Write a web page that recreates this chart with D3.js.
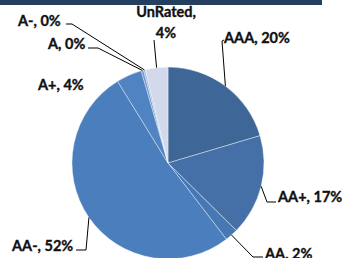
<!DOCTYPE html>
<html>
<head>
<meta charset="utf-8">
<script src="https://cdn.jsdelivr.net/npm/d3@7"></script>
<style>
  html, body { margin: 0; padding: 0; background: #fff; }
  svg { display: block; }
  .lbl { font-family: Lato, "Open Sans", sans-serif; font-weight: 700; font-size: 14.5px;
         fill: #111; stroke: #111; stroke-width: 0.35px; }
</style>
</head>
<body>
<div id="page"></div>
<script>
// ratings share of portfolio, clockwise from 12 o'clock
var ratings = ['AAA', 'AA+', 'AA', 'AA-', 'A+', 'A', 'A-', 'UnRated'];
var shares  = [20.4, 17.0, 2.2, 51.6, 4.3, 0.4, 0.3, 3.8];
var colors  = ['#3e6697', '#4470a7', '#4878b4', '#4b7ebc', '#5083c1', '#6b96cc', '#9db6db', '#d1d9ea'];

// label layout: text position + leader elbow/end (null = no leader)
var labelLayout = [
  {x: 224, y: 43,  anchor: 'start', elbow: [222, 41], stub: [224, 40]},
  {x: 278, y: 202, anchor: 'start', elbow: [267, 202], stub: [276, 202]},
  {x: 265, y: 259, anchor: 'start', elbow: [253, 257], stub: [263, 257]},
  {x: 12,  y: 251, anchor: 'start', elbow: [86, 250], stub: [76, 250]},
  {x: 38,  y: 90,  anchor: 'start', elbow: null},
  {x: 48,  y: 49,  anchor: 'start', elbow: [98, 48], stub: [88, 48]},
  {x: 18,  y: 26,  anchor: 'start', elbow: [72, 24], stub: [66, 24]},
  {x: 166, y: 17,  anchor: 'middle', elbow: [154, 40], stub: null, twoLine: true}
];

var width = 344, height = 258,
    cx = 168, cy = 163, radius = 96;

var svg = d3.select("#page").append("svg")
    .attr("width", width)
    .attr("height", height);

// cut-off title band
svg.append("rect")
    .attr("x", 0).attr("y", -20)
    .attr("width", 322).attr("height", 25)
    .attr("fill", "#243f60");

var data = ratings.map(function(r, i) {
  return {rating: r, value: shares[i], color: colors[i], layout: labelLayout[i]};
});

var pie = d3.pie()
    .sort(null)
    .value(function(d) { return d.value; });

var arc = d3.arc()
    .innerRadius(0)
    .outerRadius(radius);

var arcs = pie(data);

var g = svg.append("g")
    .attr("transform", "translate(" + cx + "," + cy + ")");

g.selectAll("path.slice")
    .data(arcs)
  .enter().append("path")
    .attr("class", "slice")
    .attr("d", arc)
    .attr("fill", function(d) { return d.data.color; })
    .attr("stroke", "rgba(255,255,255,0.55)")
    .attr("stroke-width", 0.7);

var edgePoint = function(d) {
  var a = (d.startAngle + d.endAngle) / 2;
  return [cx + radius * Math.sin(a), cy - radius * Math.cos(a)];
};

// leader lines
arcs.forEach(function(d) {
  var l = d.data.layout;
  if (!l.elbow) return;
  var pts = [edgePoint(d), l.elbow];
  if (l.stub) pts.push(l.stub);
  svg.append("path")
      .attr("d", d3.line()(pts))
      .attr("fill", "none")
      .attr("stroke", "#000")
      .attr("stroke-width", 1);
});

// labels
arcs.forEach(function(d) {
  var l = d.data.layout,
      pct = Math.round(d.data.value) + "%";
  var t = svg.append("text")
      .attr("class", "lbl")
      .attr("x", l.x)
      .attr("y", l.y)
      .attr("text-anchor", l.anchor);
  if (l.twoLine) {
    t.append("tspan").attr("x", l.x).text(d.data.rating + ",");
    t.append("tspan").attr("x", l.x).attr("dy", 21).text(pct);
  } else {
    t.text(d.data.rating + ", " + pct);
  }
});
</script>
</body>
</html>
